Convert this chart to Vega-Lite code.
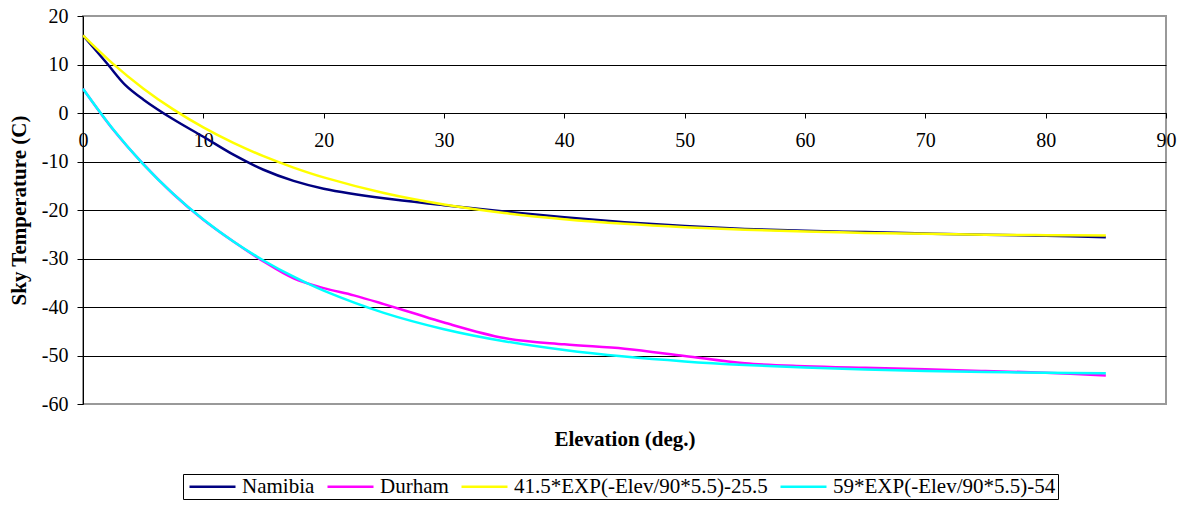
{
  "$schema": "https://vega.github.io/schema/vega-lite/v6.json",
  "width": 1083,
  "height": 388,
  "autosize": {"type": "none"},
  "padding": {"left": 83, "top": 16, "right": 21, "bottom": 102},
  "background": "white",
  "config": {"font": "Liberation Serif", "view": {"stroke": "#999999", "strokeWidth": 2}},
  "datasets": {
    "rows": [
      {"series": "Namibia", "elev": 0, "temp": 16},
      {"series": "Namibia", "elev": 2, "temp": 10.2},
      {"series": "Namibia", "elev": 3.5, "temp": 5.8},
      {"series": "Namibia", "elev": 5, "temp": 2.8},
      {"series": "Namibia", "elev": 7.5, "temp": -1.3},
      {"series": "Namibia", "elev": 10, "temp": -4.9},
      {"series": "Namibia", "elev": 12.5, "temp": -8.6},
      {"series": "Namibia", "elev": 15, "temp": -11.7},
      {"series": "Namibia", "elev": 17.5, "temp": -14.0},
      {"series": "Namibia", "elev": 20, "temp": -15.6},
      {"series": "Namibia", "elev": 25, "temp": -17.6},
      {"series": "Namibia", "elev": 30, "temp": -19.0},
      {"series": "Namibia", "elev": 35, "temp": -20.3},
      {"series": "Namibia", "elev": 40, "temp": -21.5},
      {"series": "Namibia", "elev": 45, "temp": -22.5},
      {"series": "Namibia", "elev": 50, "temp": -23.3},
      {"series": "Namibia", "elev": 55, "temp": -23.9},
      {"series": "Namibia", "elev": 60, "temp": -24.3},
      {"series": "Namibia", "elev": 65, "temp": -24.55},
      {"series": "Namibia", "elev": 70, "temp": -24.85},
      {"series": "Namibia", "elev": 75, "temp": -25.1},
      {"series": "Namibia", "elev": 80, "temp": -25.3},
      {"series": "Namibia", "elev": 85, "temp": -25.6},
      {"series": "Durham", "elev": 0, "temp": 5},
      {"series": "Durham", "elev": 2.5, "temp": -3.4},
      {"series": "Durham", "elev": 5, "temp": -10.5},
      {"series": "Durham", "elev": 7.5, "temp": -16.7},
      {"series": "Durham", "elev": 10, "temp": -22.0},
      {"series": "Durham", "elev": 12.5, "temp": -26.5},
      {"series": "Durham", "elev": 15, "temp": -30.6},
      {"series": "Durham", "elev": 17.5, "temp": -34.1},
      {"series": "Durham", "elev": 20, "temp": -36.1},
      {"series": "Durham", "elev": 22.5, "temp": -37.6},
      {"series": "Durham", "elev": 25, "temp": -39.4},
      {"series": "Durham", "elev": 27.5, "temp": -41.3},
      {"series": "Durham", "elev": 30, "temp": -43.2},
      {"series": "Durham", "elev": 35, "temp": -46.4},
      {"series": "Durham", "elev": 40, "temp": -47.7},
      {"series": "Durham", "elev": 45, "temp": -48.6},
      {"series": "Durham", "elev": 50, "temp": -50.1},
      {"series": "Durham", "elev": 55, "temp": -51.6},
      {"series": "Durham", "elev": 60, "temp": -52.2},
      {"series": "Durham", "elev": 65, "temp": -52.55},
      {"series": "Durham", "elev": 70, "temp": -52.85},
      {"series": "Durham", "elev": 75, "temp": -53.2},
      {"series": "Durham", "elev": 80, "temp": -53.55},
      {"series": "Durham", "elev": 85, "temp": -54.1},
      {"series": "41.5*EXP(-Elev/90*5.5)-25.5", "elev": 0, "temp": 16},
      {"series": "41.5*EXP(-Elev/90*5.5)-25.5", "elev": 2.5, "temp": 10.12},
      {"series": "41.5*EXP(-Elev/90*5.5)-25.5", "elev": 5, "temp": 5.07},
      {"series": "41.5*EXP(-Elev/90*5.5)-25.5", "elev": 7.5, "temp": 0.74},
      {"series": "41.5*EXP(-Elev/90*5.5)-25.5", "elev": 10, "temp": -2.98},
      {"series": "41.5*EXP(-Elev/90*5.5)-25.5", "elev": 12.5, "temp": -6.17},
      {"series": "41.5*EXP(-Elev/90*5.5)-25.5", "elev": 15, "temp": -8.91},
      {"series": "41.5*EXP(-Elev/90*5.5)-25.5", "elev": 17.5, "temp": -11.26},
      {"series": "41.5*EXP(-Elev/90*5.5)-25.5", "elev": 20, "temp": -13.28},
      {"series": "41.5*EXP(-Elev/90*5.5)-25.5", "elev": 25, "temp": -16.49},
      {"series": "41.5*EXP(-Elev/90*5.5)-25.5", "elev": 30, "temp": -18.86},
      {"series": "41.5*EXP(-Elev/90*5.5)-25.5", "elev": 35, "temp": -20.61},
      {"series": "41.5*EXP(-Elev/90*5.5)-25.5", "elev": 40, "temp": -21.9},
      {"series": "41.5*EXP(-Elev/90*5.5)-25.5", "elev": 45, "temp": -22.85},
      {"series": "41.5*EXP(-Elev/90*5.5)-25.5", "elev": 50, "temp": -23.55},
      {"series": "41.5*EXP(-Elev/90*5.5)-25.5", "elev": 55, "temp": -24.06},
      {"series": "41.5*EXP(-Elev/90*5.5)-25.5", "elev": 60, "temp": -24.44},
      {"series": "41.5*EXP(-Elev/90*5.5)-25.5", "elev": 65, "temp": -24.72},
      {"series": "41.5*EXP(-Elev/90*5.5)-25.5", "elev": 70, "temp": -24.92},
      {"series": "41.5*EXP(-Elev/90*5.5)-25.5", "elev": 75, "temp": -25.08},
      {"series": "41.5*EXP(-Elev/90*5.5)-25.5", "elev": 80, "temp": -25.19},
      {"series": "41.5*EXP(-Elev/90*5.5)-25.5", "elev": 85, "temp": -25.27},
      {"series": "59*EXP(-Elev/90*5.5)-54", "elev": 0, "temp": 5},
      {"series": "59*EXP(-Elev/90*5.5)-54", "elev": 2.5, "temp": -3.36},
      {"series": "59*EXP(-Elev/90*5.5)-54", "elev": 5, "temp": -10.53},
      {"series": "59*EXP(-Elev/90*5.5)-54", "elev": 7.5, "temp": -16.69},
      {"series": "59*EXP(-Elev/90*5.5)-54", "elev": 10, "temp": -21.98},
      {"series": "59*EXP(-Elev/90*5.5)-54", "elev": 12.5, "temp": -26.51},
      {"series": "59*EXP(-Elev/90*5.5)-54", "elev": 15, "temp": -30.41},
      {"series": "59*EXP(-Elev/90*5.5)-54", "elev": 17.5, "temp": -33.75},
      {"series": "59*EXP(-Elev/90*5.5)-54", "elev": 20, "temp": -36.62},
      {"series": "59*EXP(-Elev/90*5.5)-54", "elev": 25, "temp": -41.2},
      {"series": "59*EXP(-Elev/90*5.5)-54", "elev": 30, "temp": -44.57},
      {"series": "59*EXP(-Elev/90*5.5)-54", "elev": 35, "temp": -47.05},
      {"series": "59*EXP(-Elev/90*5.5)-54", "elev": 40, "temp": -48.88},
      {"series": "59*EXP(-Elev/90*5.5)-54", "elev": 45, "temp": -50.23},
      {"series": "59*EXP(-Elev/90*5.5)-54", "elev": 50, "temp": -51.22},
      {"series": "59*EXP(-Elev/90*5.5)-54", "elev": 55, "temp": -51.95},
      {"series": "59*EXP(-Elev/90*5.5)-54", "elev": 60, "temp": -52.49},
      {"series": "59*EXP(-Elev/90*5.5)-54", "elev": 65, "temp": -52.89},
      {"series": "59*EXP(-Elev/90*5.5)-54", "elev": 70, "temp": -53.18},
      {"series": "59*EXP(-Elev/90*5.5)-54", "elev": 75, "temp": -53.4},
      {"series": "59*EXP(-Elev/90*5.5)-54", "elev": 80, "temp": -53.56},
      {"series": "59*EXP(-Elev/90*5.5)-54", "elev": 85, "temp": -53.67}
    ]
  },
  "data": {"name": "rows"},
  "mark": {"type": "line", "interpolate": "catmull-rom", "strokeWidth": 2.5},
  "encoding": {
    "x": {
      "field": "elev",
      "type": "quantitative",
      "scale": {"domain": [0, 90], "nice": false, "zero": false},
      "axis": {
        "title": "Elevation (deg.)",
        "values": [0, 10, 20, 30, 40, 50, 60, 70, 80, 90],
        "grid": false,
        "offset": -291,
        "domainColor": "black",
        "domainWidth": 1,
        "tickColor": "black",
        "tickSize": 5,
        "labelFont": "Liberation Serif",
        "labelFontSize": 20,
        "labelColor": "black",
        "labelPadding": 12,
        "labelFlush": false,
        "labelOverlap": false,
        "titleFont": "Liberation Serif",
        "titleFontSize": 21,
        "titleFontWeight": "bold",
        "titleColor": "black",
        "titleBaseline": "alphabetic",
        "titleY": 332
      }
    },
    "y": {
      "field": "temp",
      "type": "quantitative",
      "scale": {"domain": [-60, 20], "nice": false, "zero": false},
      "axis": {
        "title": "Sky Temperature (C)",
        "values": [-60, -50, -40, -30, -20, -10, 0, 10, 20],
        "labelExpr": "'' + datum.value",
        "grid": true,
        "gridColor": {"condition": {"test": "datum.value == 20 || datum.value == -60", "value": "#999999"}, "value": "black"},
        "gridWidth": 1,
        "domainColor": "black",
        "domainWidth": 1,
        "tickColor": "black",
        "tickSize": 6,
        "labelFont": "Liberation Serif",
        "labelFontSize": 20,
        "labelColor": "black",
        "labelPadding": 9,
        "labelOverlap": false,
        "titleFont": "Liberation Serif",
        "titleFontSize": 21,
        "titleFontWeight": "bold",
        "titleColor": "black",
        "titleX": -54,
        "titleBaseline": "bottom"
      }
    },
    "color": {
      "field": "series",
      "type": "nominal",
      "scale": {
        "domain": ["Namibia", "Durham", "41.5*EXP(-Elev/90*5.5)-25.5", "59*EXP(-Elev/90*5.5)-54"],
        "range": ["#000080", "#FF00FF", "#FFFF00", "#00FFFF"]
      },
      "legend": {
        "orient": "none",
        "legendX": 100,
        "legendY": 458,
        "direction": "horizontal",
        "columns": 4,
        "title": null,
        "strokeColor": "black",
        "fillColor": "white",
        "padding": 2,
        "symbolType": "M-1.5,0H10",
        "symbolSize": 64,
        "symbolStrokeWidth": 2.5,
        "labelFont": "Liberation Serif",
        "labelFontSize": 21,
        "labelColor": "black",
        "labelOffset": 36,
        "columnPadding": 7,
        "labelLimit": 0
      }
    }
  }
}
